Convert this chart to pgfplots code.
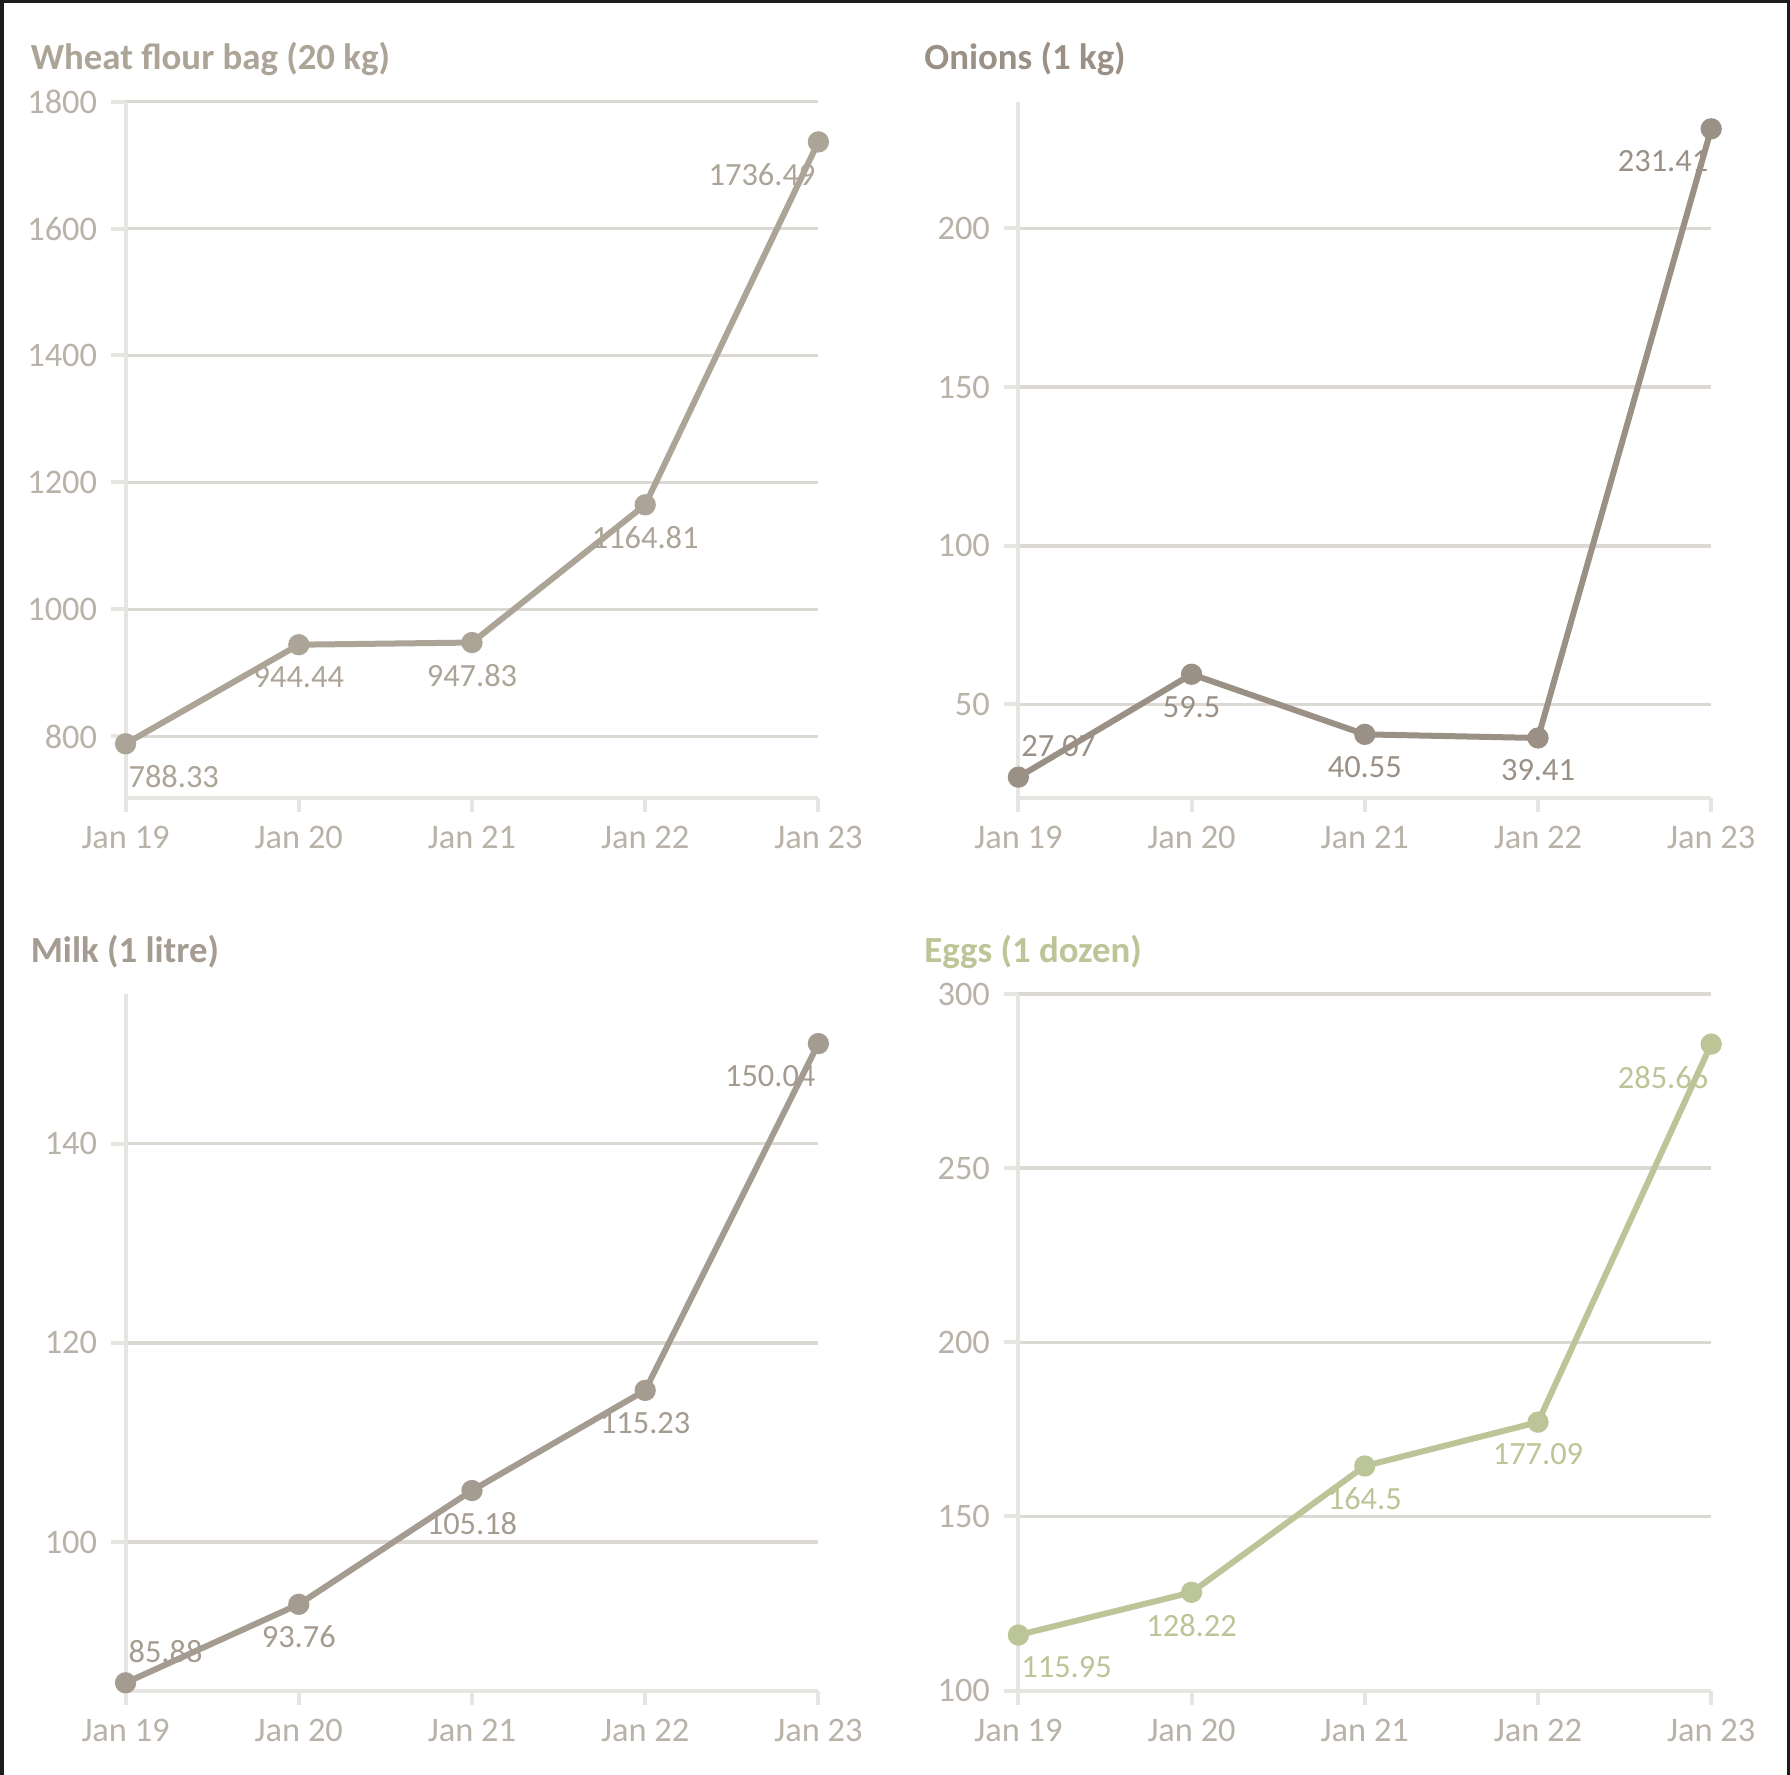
\documentclass[border=0pt]{standalone}
\usepackage{fontspec}
\setmainfont{Carlito}
\usepackage{pgfplots}
\pgfplotsset{compat=1.18}

\definecolor{wheat}{HTML}{ACA597}
\definecolor{onion}{HTML}{9B9085}
\definecolor{milk}{HTML}{A59C91}
\definecolor{eggs}{HTML}{BBC597}
\definecolor{ticktext}{HTML}{B9B2A8}
\definecolor{gridc}{HTML}{DCD9D4}
\definecolor{axisc}{HTML}{E7E5E2}
\definecolor{framec}{HTML}{1B1C1E}

\pgfplotsset{
  panel/.style={
    scale only axis, width=173.2pt, height=174.1pt,
    anchor=south west,
    xmin=0, xmax=4, xtick={0,...,4},
    xticklabels={Jan 19,Jan 20,Jan 21,Jan 22,Jan 23},
    axis lines*=left,
    axis line style={draw=axisc, line width=1pt},
    ymajorgrids, major grid style={draw=gridc, line width=0.9pt},
    tick align=outside, major tick length=3.6pt,
    major tick style={draw=axisc, line width=1pt},
    ticklabel style={font=\fontsize{8.6}{10}\selectfont, text=ticktext},
    /pgf/number format/assume math mode=true,
    /pgf/number format/1000 sep={},
    clip=false,
  },
  series/.style={
    color=#1, line width=1.5pt,
    mark=*, mark size=1.9pt, mark options={fill=#1, draw=none},
    nodes near coords, point meta=explicit symbolic,
    visualization depends on={value \thisrow{anc} \as \anc},
    visualization depends on={value \thisrow{dy} \as \dy},
    every node near coord/.append style={anchor=\anc, yshift=\dy pt,
      inner sep=0pt, text=#1, font=\fontsize{8.1}{10}\selectfont},
  },
}

\begin{document}
\begin{tikzpicture}
\fill[framec] (0,0) rectangle (447.5pt,443.75pt);
\fill[white] (1pt,0) rectangle (446.7pt,443pt);

% wheat flour
\begin{axis}[panel, at={(31.4pt,244.25pt)}, ymin=703, ymax=1800,
  ytick={800,1000,1200,1400,1600,1800}]
\addplot[series=wheat] table[x=x, y=y, meta=lab, col sep=comma] {
x,y,lab,anc,dy
0,788.33,788.33,north west,-4.7
1,944.44,944.44,north,-4.7
2,947.83,947.83,north,-4.7
3,1164.81,1164.81,north,-4.7
4,1736.49,1736.49,north east,-4.7
};
\end{axis}

% onions
\begin{axis}[panel, at={(254.6pt,244.25pt)}, ymin=20.5, ymax=240,
  ytick={50,100,150,200}]
\addplot[series=onion] table[x=x, y=y, meta=lab, col sep=comma] {
x,y,lab,anc,dy
0,27.07,27.07,south west,4.3
1,59.5,59.5,north,-4.7
2,40.55,40.55,north,-4.7
3,39.41,39.41,north,-4.7
4,231.41,231.41,north east,-4.7
};
\end{axis}

% milk
\begin{axis}[panel, at={(31.4pt,21.1pt)}, ymin=85.1, ymax=155,
  ytick={100,120,140}]
\addplot[series=milk] table[x=x, y=y, meta=lab, col sep=comma] {
x,y,lab,anc,dy
0,85.88,85.88,south west,4.3
1,93.76,93.76,north,-4.7
2,105.18,105.18,north,-4.7
3,115.23,115.23,north,-4.7
4,150.04,150.04,north east,-4.7
};
\end{axis}

% eggs
\begin{axis}[panel, at={(254.6pt,21.1pt)}, ymin=100, ymax=300,
  ytick={100,150,200,250,300}]
\addplot[series=eggs] table[x=x, y=y, meta=lab, col sep=comma] {
x,y,lab,anc,dy
0,115.95,115.95,north west,-4.7
1,128.22,128.22,north,-4.7
2,164.5,164.5,north,-4.7
3,177.09,177.09,north,-4.7
4,285.66,285.66,north east,-4.7
};
\end{axis}

\begin{scope}[every node/.style={anchor=base west, inner sep=0pt,
    font=\bfseries\fontsize{9.2}{11}\selectfont}]
\node[text=wheat] at (7.5pt,426.4pt) {Wheat flour bag (20 kg)};
\node[text=onion] at (230.9pt,426.4pt) {Onions (1 kg)};
\node[text=milk] at (7.5pt,203.2pt) {Milk (1 litre)};
\node[text=eggs] at (230.9pt,203.2pt) {Eggs (1 dozen)};
\end{scope}
\end{tikzpicture}
\end{document}
